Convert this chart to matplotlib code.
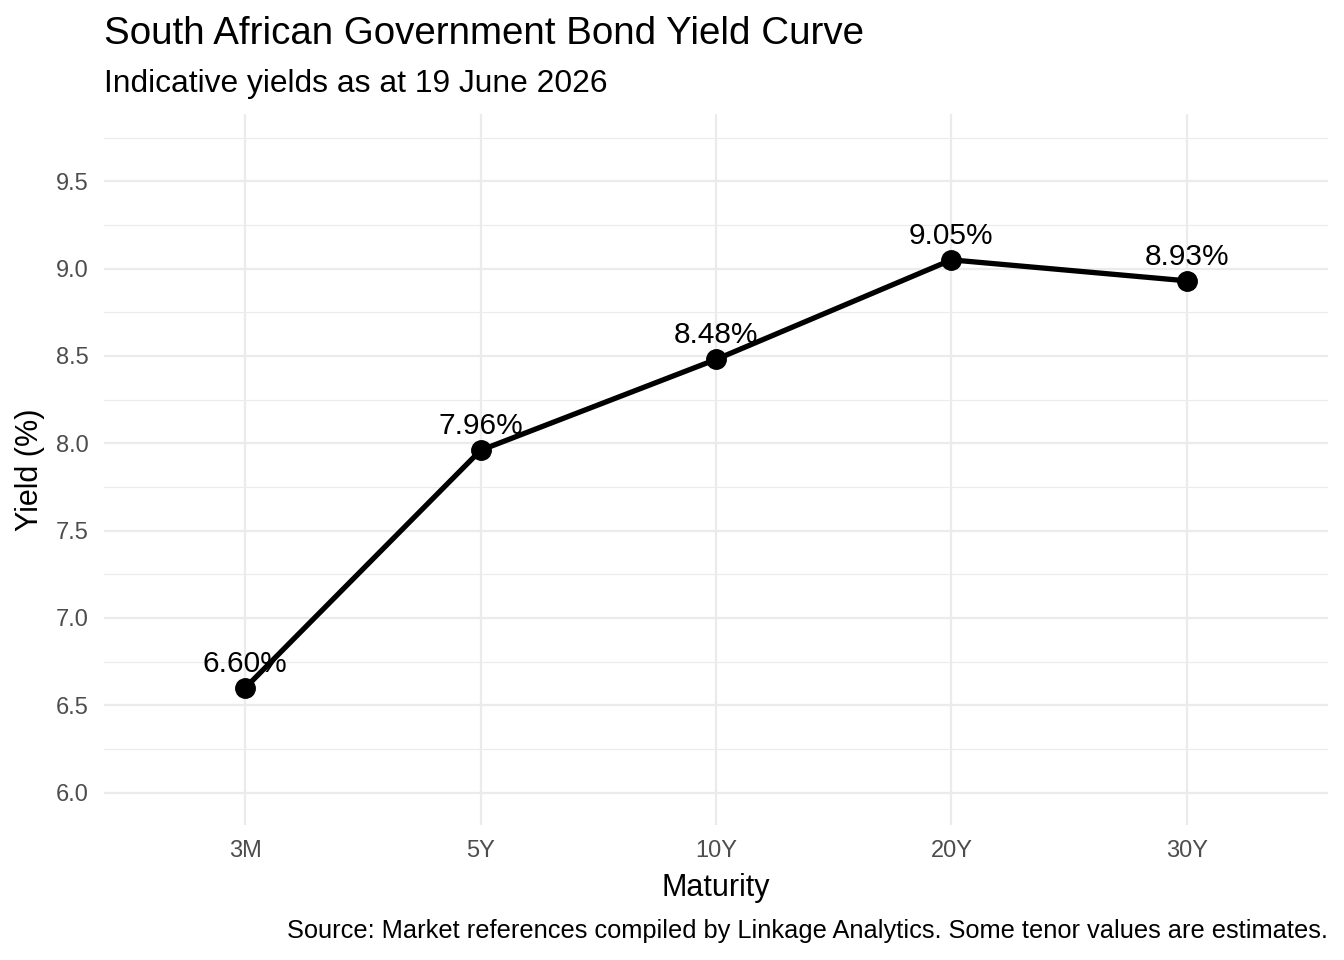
import matplotlib
matplotlib.use("Agg")
import matplotlib.pyplot as plt
import numpy as np

maturities = ["3M", "5Y", "10Y", "20Y", "30Y"]
yields = [6.60, 7.96, 8.48, 9.05, 8.93]
y_ticks = [6.0, 6.5, 7.0, 7.5, 8.0, 8.5, 9.0, 9.5]
y_minor = [6.25, 6.75, 7.25, 7.75, 8.25, 8.75, 9.25, 9.75]

plt.rcParams['font.family'] = ['Liberation Sans', 'DejaVu Sans']

fig = plt.figure(figsize=(13.44, 9.6), dpi=100)
W, H = 1344, 960
top, bottom = 114, 825
ax = fig.add_axes([104 / W, 1 - bottom / H, (1328 - 104) / W, (bottom - top) / H])

x = np.arange(len(maturities))
ax.set_xlim(-0.6, len(maturities) - 1 + 0.6)
ax.set_ylim(5.815, 9.885)

for v in y_minor:
    ax.axhline(v, color='#EBEBEB', lw=0.8, zorder=0)
for v in y_ticks:
    ax.axhline(v, color='#EBEBEB', lw=1.6, zorder=0)
for xi in x:
    ax.axvline(xi, color='#EBEBEB', lw=1.6, zorder=0)

ax.plot(x, yields, color='black', lw=3.8, zorder=2)
ax.plot(x, yields, 'o', color='black', ms=14, zorder=3)
for xi, yv in zip(x, yields):
    ax.annotate(f"{yv:.2f}%", (xi, yv), xytext=(0, 11.5), textcoords='offset points',
                ha='center', va='baseline', fontsize=21.5, color='black', zorder=4)

ax.set_xticks(x)
ax.set_xticklabels(maturities)
ax.set_yticks(y_ticks)
ax.set_yticklabels([f"{v:.1f}" for v in y_ticks])
ax.tick_params(axis='both', length=0, labelsize=17, labelcolor='#4D4D4D')
ax.tick_params(axis='x', pad=11)
ax.tick_params(axis='y', pad=11)
for s in ax.spines.values():
    s.set_visible(False)

fig.text(716 / W, 1 - 888 / H, "Maturity", fontsize=22, ha='center', va='center')
fig.text(30 / W, 1 - 470 / H, "Yield (%)", fontsize=22, ha='center', va='center', rotation=90)

fig.text(104 / W, 1 - 34 / H, "South African Government Bond Yield Curve",
         fontsize=27.7, ha='left', va='center')
fig.text(104 / W, 1 - 84 / H, "Indicative yields as at 19 June 2026",
         fontsize=22.9, ha='left', va='center')
fig.text(1328 / W, 1 - 931 / H,
         "Source: Market references compiled by Linkage Analytics. Some tenor values are estimates.",
         fontsize=18.3, ha='right', va='center')

fig.savefig("out.png", dpi=100)
